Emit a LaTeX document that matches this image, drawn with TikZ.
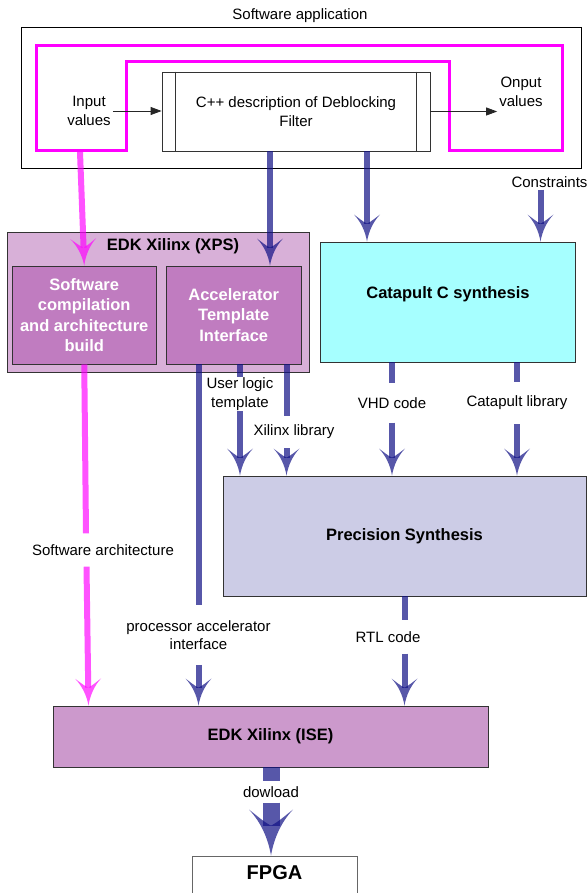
\documentclass[tikz,border=0pt]{standalone}
\usepackage{fontspec}
\setmainfont{Liberation Sans}
\usetikzlibrary{arrows.meta,calc,positioning}

\definecolor{xpsback}{RGB}{216,176,216}
\definecolor{xpsinner}{RGB}{192,124,192}
\definecolor{isefill}{RGB}{204,153,204}
\definecolor{catcyan}{RGB}{166,255,255}
\definecolor{precfill}{RGB}{204,204,230}
\definecolor{flowblue}{RGB}{16,16,133}
\definecolor{swpink}{RGB}{255,0,255}

% flared arrow head with curved sides
\pgfdeclarearrow{
  name = Flare,
  defaults = {length = 27pt, width = 26pt, inset = 9pt},
  parameters = {\the\pgfarrowlength,\the\pgfarrowwidth,\the\pgfarrowinset},
  setup code = {
    \pgfarrowssettipend{\pgfarrowlength}
    \pgfarrowssetbackend{0pt}
    \pgfarrowssetlineend{\pgfarrowinset}
    \pgfarrowssetvisualbackend{\pgfarrowinset}
    \pgfarrowshullpoint{\pgfarrowlength}{0pt}
    \pgfarrowsupperhullpoint{0pt}{.5\pgfarrowwidth}
    \pgfarrowssavethe\pgfarrowlength
    \pgfarrowssavethe\pgfarrowwidth
    \pgfarrowssavethe\pgfarrowinset
  },
  drawing code = {
    \pgfpathmoveto{\pgfqpoint{\pgfarrowlength}{0pt}}
    \pgfpathcurveto{\pgfqpoint{.6\pgfarrowlength}{.07\pgfarrowwidth}}
      {\pgfqpoint{.25\pgfarrowlength}{.25\pgfarrowwidth}}
      {\pgfqpoint{0pt}{.5\pgfarrowwidth}}
    \pgfpathcurveto{\pgfqpoint{.35\pgfarrowinset}{.33\pgfarrowwidth}}
      {\pgfqpoint{.75\pgfarrowinset}{.18\pgfarrowwidth}}
      {\pgfqpoint{\pgfarrowinset}{0pt}}
    \pgfpathcurveto{\pgfqpoint{.75\pgfarrowinset}{-.18\pgfarrowwidth}}
      {\pgfqpoint{.35\pgfarrowinset}{-.33\pgfarrowwidth}}
      {\pgfqpoint{0pt}{-.5\pgfarrowwidth}}
    \pgfpathcurveto{\pgfqpoint{.25\pgfarrowlength}{-.25\pgfarrowwidth}}
      {\pgfqpoint{.6\pgfarrowlength}{-.07\pgfarrowwidth}}
      {\pgfqpoint{\pgfarrowlength}{0pt}}
    \pgfpathclose
    \pgfusepathqfill
  }
}

\begin{document}
\begin{tikzpicture}[x=1pt,y=-1pt,
 every node/.style={font=\fontsize{15}{18.5}\selectfont,align=center,inner sep=2pt},
 box/.style={draw=black!80,line width=0.8pt,inner sep=3pt},
 boxtitle/.style={font=\fontsize{16.5}{20.3}\selectfont\bfseries},
 xpsbox/.style={box,boxtitle,fill=xpsinner,text=white},
 flow/.style={draw=flowblue,opacity=0.7,line width=6pt},
 flowarrow/.style={flow,-Flare},
 swflow/.style={draw=swpink,opacity=0.68,line width=6pt},
 swarrow/.style={swflow,-Flare},
 plainarrow/.style={draw=black!85,line width=0.8pt,-{Triangle[length=11pt,width=8pt]}}]
\useasboundingbox (0,0) rectangle (588,893);
% software application
\node (apptitle) at (300,16) {Software application};
\node[box,draw=black,minimum width=560pt,minimum height=141pt] (app) at (301,97.5) {};
\draw[swpink,line width=3pt] (36,46) -- (562,46) -- (562,151) -- (449,151) -- (449,62)
  -- (126,62) -- (126,151) -- (36,151) -- cycle;
\node[box,minimum width=268pt,minimum height=79pt] (cpp) at (296,111.5) {C++ description of Deblocking\\Filter};
\draw[black!80,line width=0.8pt] ([xshift=14pt]cpp.north west) -- ([xshift=14pt]cpp.south west);
\draw[black!80,line width=0.8pt] ([xshift=-14pt]cpp.north east) -- ([xshift=-14pt]cpp.south east);
\node (input) at (89,111) {Input\\values};
\node (output) at (521,92) {Onput\\values};
\draw[plainarrow] (input.east) -- (input.east -| cpp.west);
\draw[plainarrow] (cpp.east) -- (cpp.east -| output.west);
\coordinate (loopout) at (80,152);
\node (constraints) at (549.5,182) {Constraints};

% tool boxes
\node[box,fill=xpsback,minimum width=301.5pt,minimum height=140pt] (xps) at (158.25,302) {};
\node[boxtitle] (xpstitle) at (173,246) {EDK Xilinx (XPS)};
\node[xpsbox,minimum width=144.5pt,minimum height=98pt] (swbuild) at (84.25,315) {Software\\compilation\\and architecture\\build};
\node[xpsbox,minimum width=134.5pt,minimum height=98pt] (accel) at (233.75,315) {Accelerator\\Template\\Interface};
\node[box,boxtitle,fill=catcyan,minimum width=254.5pt,minimum height=120pt,text depth=18pt] (catapult) at (448,302) {Catapult C synthesis};
\node[box,boxtitle,fill=precfill,minimum width=363pt,minimum height=120pt] (precision) at (404.5,536) {Precision Synthesis};
\node[box,boxtitle,fill=isefill,minimum width=435pt,minimum height=61pt] (ise) at (270.5,736.5) {EDK Xilinx (ISE)};
\node[box,draw=black!60,font=\fontsize{20}{24}\selectfont\bfseries,minimum width=165pt,minimum height=52pt,text depth=18pt] (fpga) at (274.5,882) {FPGA};

% labels on the flows
\node[inner ysep=1pt] (ultemplate) at (240,394) {User logic\\template};
\node[inner ysep=9pt] (xlib) at (294,432) {Xilinx library};
\node[inner ysep=14pt] (vhd) at (392,403) {VHD code};
\node[inner ysep=14pt] (catlib) at (517,403) {Catapult library};
\node[inner ysep=11pt] (swarch) at (103,550) {Software architecture};
\node[inner ysep=15pt] (procif) at (198.5,635) {processor accelerator\\interface};
\node[inner ysep=11pt] (rtl) at (388,637) {RTL code};
\node[inner ysep=5pt] (download) at (271,792) {dowload};

% flows
\draw[swarrow] (loopout) -- (swbuild.north);
\draw[flowarrow] ([xshift=-26pt]cpp.south) -- ([xshift=-26pt]cpp.south |- accel.north);
\draw[flowarrow] ([xshift=71pt]cpp.south) -- ([xshift=71pt]cpp.south |- catapult.north);
\draw[flowarrow] ([xshift=-9pt]constraints.south) -- ([xshift=-9pt]constraints.south |- catapult.north);
\draw[swflow] (swbuild.south) -- ([xshift=-17pt]swarch.north);
\draw[swarrow] ([xshift=-16.5pt]swarch.south) -- ([xshift=-182pt]ise.north);
\draw[flow] (accel.south -| procif.north) -- (procif.north);
\draw[flowarrow] (procif.south) -- (procif.south |- ise.north);
\draw[flow] (accel.south -| ultemplate.north) -- (ultemplate.north);
\draw[flowarrow] (ultemplate.south) -- (ultemplate.south |- precision.north);
\draw[flow] ([xshift=-7.5pt]xlib.north |- accel.south) -- ([xshift=-7.5pt]xlib.north);
\draw[flowarrow] ([xshift=-7.5pt]xlib.south) -- ([xshift=-7.5pt]xlib.south |- precision.north);
\draw[flow] (catapult.south -| vhd.north) -- (vhd.north);
\draw[flowarrow] (vhd.south) -- (vhd.south |- precision.north);
\draw[flow] (catapult.south -| catlib.north) -- (catlib.north);
\draw[flowarrow] (catlib.south) -- (catlib.south |- precision.north);
\draw[flow] (precision.south) -- (precision.south |- rtl.north);
\draw[flowarrow] (precision.south |- rtl.south) -- (precision.south |- ise.north);
\draw[flow,line width=17pt] (ise.south -| download.north) -- (download.north);
\draw[flow,line width=17pt,-{Flare[length=46pt,width=44pt,inset=16pt]}] (download.south) -- (download.south |- fpga.north);
\end{tikzpicture}
\end{document}
